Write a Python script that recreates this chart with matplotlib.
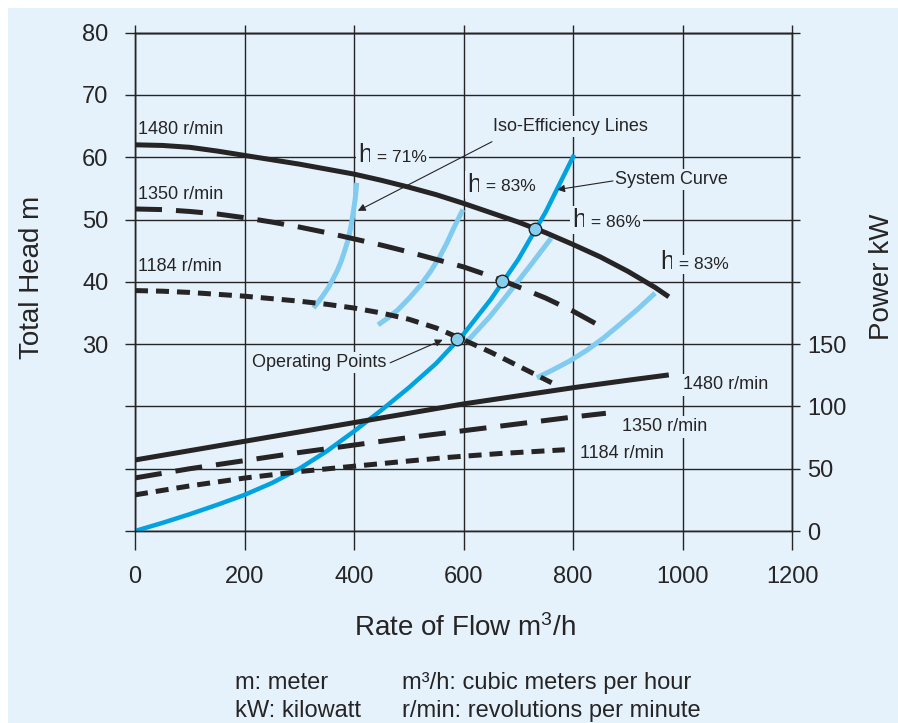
import matplotlib
matplotlib.use("Agg")
import matplotlib.pyplot as plt
from matplotlib.patches import Rectangle

plt.rcParams['font.family'] = ['Liberation Sans', 'DejaVu Sans']
plt.rcParams['mathtext.fontset'] = 'custom'
plt.rcParams['mathtext.rm'] = 'Liberation Sans'
plt.rcParams['mathtext.it'] = 'Liberation Sans'

# ---------------- data ----------------
flow_ticks = [0, 200, 400, 600, 800, 1000, 1200]
head_ticks = [0, 10, 20, 30, 40, 50, 60, 70, 80]
head_labels = ['', '', '', '30', '40', '50', '60', '70', '80']
power_ticks = [0, 50, 100, 150, 200, 250, 300, 350, 400]
power_labels = ['0', '50', '100', '150', '', '', '', '', '']

# pump head curves (m)
flow_h1480 = [0, 50, 100, 150, 200, 250, 300, 350, 400, 450, 500, 550, 600,
              650, 700, 750, 800, 850, 900, 950, 975]
head_1480 = [62.0, 61.9, 61.6, 61.0, 60.3, 59.6, 58.9, 58.1, 57.3, 56.3, 55.2,
             54.0, 52.6, 51.1, 49.6, 47.9, 46.0, 44.0, 41.7, 39.1, 37.6]
flow_h1350 = [0, 50, 100, 150, 200, 250, 300, 350, 400, 450, 500, 550, 600,
              650, 700, 750, 800, 860]
head_1350 = [51.7, 51.6, 51.3, 50.9, 50.3, 49.6, 48.8, 47.9, 46.9, 45.9, 44.8,
             43.6, 42.4, 40.9, 39.2, 37.4, 35.3, 32.4]
flow_h1184 = [0, 50, 100, 150, 200, 250, 300, 350, 400, 450, 500, 550, 600,
              650, 700, 761]
head_1184 = [38.6, 38.5, 38.3, 38.0, 37.7, 37.3, 36.9, 36.4, 35.8, 35.0, 34.0,
             32.6, 30.7, 28.7, 26.5, 23.8]

# system curve (m)
flow_sys = [0, 50, 100, 150, 200, 250, 300, 350, 400, 450, 500, 550, 600,
            650, 700, 750, 802]
head_sys = [0, 1.3, 2.7, 4.2, 5.8, 7.7, 10.0, 12.8, 16.0, 19.4, 23.0, 26.9,
            31.6, 37.2, 43.6, 51.2, 60.4]

# iso-efficiency lines (m)
flow_e71 = [326, 336, 345, 354, 362, 370, 377, 383, 389, 394, 398, 402, 405]
head_e71 = [35.8, 36.9, 38.0, 39.2, 40.5, 41.9, 43.4, 45.0, 46.7, 48.7, 50.8,
            53.2, 55.9]
flow_e83a = [444, 462, 480, 500, 521, 540, 557, 570, 582, 591, 599]
head_e83a = [33.1, 34.2, 35.5, 37.3, 39.4, 41.7, 44.1, 46.3, 48.6, 50.2, 51.6]
flow_e86 = [604, 625, 648, 670, 695, 721, 740, 760]
head_e86 = [30.2, 32.2, 34.4, 36.8, 39.6, 42.5, 44.7, 47.0]
flow_e83b = [734, 764, 794, 825, 856, 886, 918, 950]
head_e83b = [24.6, 25.9, 27.3, 29.0, 31.0, 33.2, 35.6, 38.2]

# operating points
flow_op = [589, 670, 731]
head_op = [30.9, 40.1, 48.5]

# power curves (kW)
flow_p1480 = [0, 100, 200, 300, 400, 500, 600, 700, 800, 900, 975]
power_1480 = [57, 64.5, 72, 79.5, 87, 94.5, 102, 108.5, 115, 121, 125.3]
flow_p1350 = [0, 100, 200, 300, 400, 500, 600, 700, 800, 860]
power_1350 = [42.6, 50, 56.5, 63, 69, 75, 80.5, 86, 91.5, 94.5]
flow_p1184 = [0, 100, 200, 300, 400, 500, 575, 667, 785]
power_1184 = [29, 36.2, 42.5, 47.7, 52, 56.2, 59.2, 62.2, 65.2]

# ---------------- style ----------------
BG = '#e5f2fb'
DARK = '#262425'
BLUE = '#00a2e0'
LBLUE = '#80cbef'
W, H = 898, 723

fig = plt.figure(figsize=(W / 100, H / 100), dpi=100)
fig.patch.set_facecolor('white')
fig.add_artist(Rectangle((8 / W, 0), 1, (H - 8) / H, transform=fig.transFigure,
                         facecolor=BG, edgecolor='none', zorder=-10))

x0, x1 = 135, 792
y0, y1 = 531, 32.7
ax = fig.add_axes([x0 / W, (H - y0) / H, (x1 - x0) / W, (y0 - y1) / H])
ax.set_facecolor('none')
ax.set_xlim(0, 1200)
ax.set_ylim(0, 80)
ax.set_xticks(flow_ticks)
ax.set_xticklabels([str(v) for v in flow_ticks])
ax.set_yticks(head_ticks)
ax.set_yticklabels(head_labels)
ax.grid(True, color=DARK, lw=1.0)
ax.set_axisbelow(True)
for s in ax.spines.values():
    s.set_color(DARK)
    s.set_linewidth(1.0)
ax.tick_params(axis='x', direction='out', length=14, width=1.0, color=DARK,
               pad=11, labelsize=17, labelcolor=DARK)
ax.tick_params(axis='y', direction='out', length=7, width=1.0, color=DARK,
               pad=12, labelsize=17, labelcolor=DARK, right=False)

axt = ax.secondary_xaxis('top')
axt.set_xticks(flow_ticks)
axt.tick_params(direction='out', length=6, width=1.0, color=DARK, labeltop=False)
axt.spines['top'].set_linewidth(1.0)
axt.spines['top'].set_color(DARK)

# head curves
ax.plot(flow_h1480, head_1480, color=DARK, lw=3.6, solid_capstyle='butt', zorder=3)
ax.plot(flow_h1350, head_1350, color=DARK, lw=3.6, ls=(0, (5.4, 2.8)), zorder=3)
ax.plot(flow_h1184, head_1184, color=DARK, lw=3.6, ls=(0, (2.6, 1.6)), zorder=3)

# iso-efficiency lines
for fx, hy in [(flow_e71, head_e71), (flow_e83a, head_e83a),
               (flow_e86, head_e86), (flow_e83b, head_e83b)]:
    ax.plot(fx, hy, color=LBLUE, lw=3.6, solid_capstyle='butt', zorder=2.5)

# system curve
ax.plot(flow_sys, head_sys, color=BLUE, lw=3.2, solid_capstyle='butt', zorder=3.5)
ax.plot(flow_op, head_op, ls='none', marker='o', ms=9, mfc='#86cdee',
        mec=DARK, mew=1.0, zorder=5)

# power curves on right axis
ax2 = ax.twinx()
ax2.set_ylim(0, 400)
ax2.set_yticks(power_ticks)
ax2.set_yticklabels(power_labels)
ax2.tick_params(axis='y', direction='out', length=6, width=1.0, color=DARK,
                pad=5, labelsize=17, labelcolor=DARK)
for s in ax2.spines.values():
    s.set_color(DARK)
    s.set_linewidth(1.0)
ax2.plot(flow_p1480, power_1480, color=DARK, lw=3.6, solid_capstyle='butt', zorder=3)
ax2.plot(flow_p1350, power_1350, color=DARK, lw=3.6, ls=(0, (5.4, 2.8)), zorder=3)
ax2.plot(flow_p1184, power_1184, color=DARK, lw=3.6, ls=(0, (2.6, 1.6)), zorder=3)

box = dict(facecolor=BG, edgecolor='none', pad=1.5)
small = 13

# speed labels
ax.text(5.5, 64.4, '1480 r/min', fontsize=small, color=DARK, va='center', ha='left')
ax.text(5.5, 54.1, '1350 r/min', fontsize=small, color=DARK, va='center', ha='left')
ax.text(5.5, 42.4, '1184 r/min', fontsize=small, color=DARK, va='center', ha='left')
ax.text(1001, 23.45, '1480 r/min', fontsize=small, color=DARK, va='center', ha='left', bbox=box, zorder=4)
ax.text(889, 16.7, '1350 r/min', fontsize=small, color=DARK, va='center', ha='left', bbox=box, zorder=4)
ax.text(813, 12.5, '1184 r/min', fontsize=small, color=DARK, va='center', ha='left', bbox=box, zorder=4)

# efficiency labels
def eta_label(x, y, pct):
    t = ax.text(x, y, 'h', fontsize=18, color=DARK, va='baseline', ha='left',
                bbox=box, zorder=4)
    ax.annotate(' = ' + pct, xy=(1, 0), xycoords=t, xytext=(0, 1.5),
                textcoords='offset points', fontsize=12.5, color=DARK,
                va='bottom', ha='left', bbox=box, zorder=4)

eta_label(407, 59.3, '71%')
eta_label(606, 54.5, '83%')
eta_label(798, 48.8, '86%')
eta_label(959, 42.1, '83%')

arrow = dict(arrowstyle='-|>', lw=0.8, color=DARK, mutation_scale=11,
             shrinkA=0, shrinkB=0)
ax.text(654, 64.9, 'Iso-Efficiency Lines', fontsize=small, color=DARK,
        va='center', ha='left', bbox=box, zorder=4)
ax.annotate('', xy=(407, 51.4), xytext=(652, 62.5), arrowprops=arrow, zorder=4)
ax.text(877, 56.4, 'System Curve', fontsize=small, color=DARK,
        va='center', ha='left', bbox=box, zorder=4)
ax.annotate('', xy=(771, 54.8), xytext=(873, 56.2), arrowprops=arrow, zorder=4)
ax.text(460, 27.0, 'Operating Points', fontsize=small, color=DARK,
        va='center', ha='right', bbox=box, zorder=4)
ax.annotate('', xy=(562, 30.7), xytext=(466, 27.0), arrowprops=arrow, zorder=4)

# axis labels
fig.text(32 / W, 1 - 277 / H, 'Total Head m', rotation=90, fontsize=20,
         color=DARK, ha='center', va='center')
fig.text(882 / W, 1 - 277 / H, 'Power kW', rotation=90, fontsize=20,
         color=DARK, ha='center', va='center')
fig.text(465 / W, 1 - 628 / H, 'Rate of Flow m$^{3}$/h', fontsize=20,
         color=DARK, ha='center', va='center')

# notes
fig.text(235 / W, 1 - 683 / H, 'm: meter', fontsize=17, color=DARK, va='center')
fig.text(235 / W, 1 - 711 / H, 'kW: kilowatt', fontsize=17, color=DARK, va='center')
fig.text(402 / W, 1 - 683 / H, 'm³/h: cubic meters per hour', fontsize=17, color=DARK, va='center')
fig.text(402 / W, 1 - 711 / H, 'r/min: revolutions per minute', fontsize=17, color=DARK, va='center')

fig.savefig('out.png', dpi=100, facecolor=fig.get_facecolor())
